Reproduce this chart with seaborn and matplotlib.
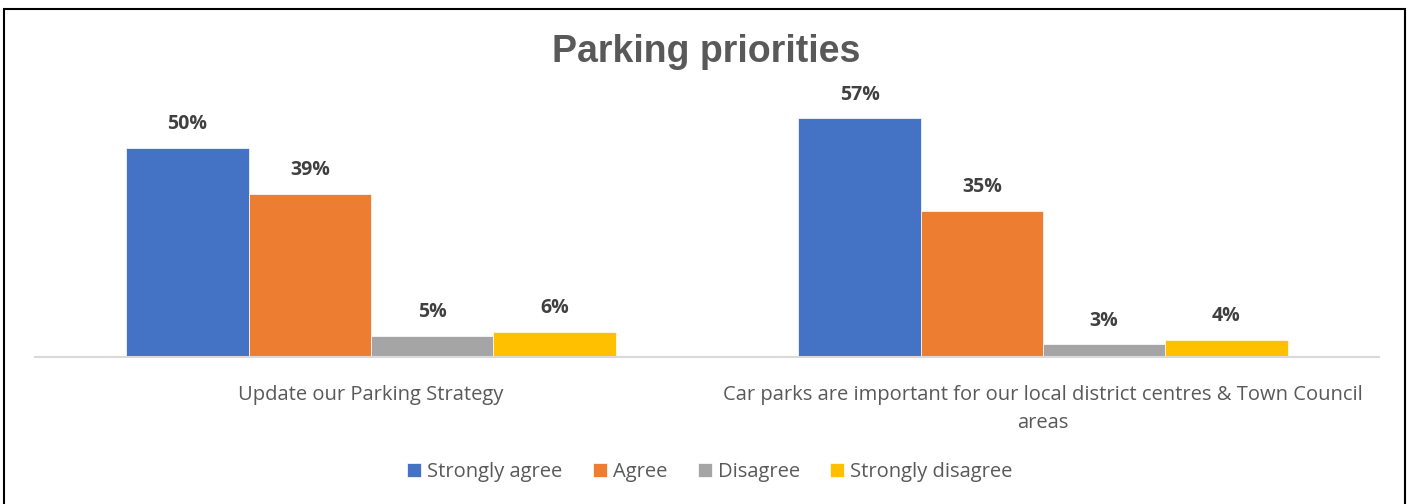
import matplotlib
matplotlib.use("Agg")
import matplotlib.pyplot as plt
import seaborn as sns
import pandas as pd
from matplotlib.patches import Rectangle

statements = [
    "Update our Parking Strategy",
    "Car parks are important for our local district centres & Town Council\nareas",
]
responses = ["Strongly agree", "Agree", "Disagree", "Strongly disagree"]
update_strategy = [50, 39, 5, 6]
car_parks_important = [57, 35, 3, 4]
colors = ["#4472C4", "#ED7D31", "#A5A5A5", "#FFC000"]

rows = []
for stmt, vals in zip(statements, [update_strategy, car_parks_important]):
    for resp, v in zip(responses, vals):
        rows.append({"statement": stmt, "response": resp, "pct": v})
df = pd.DataFrame(rows)

sns.set_theme(style="white")
plt.rcParams["font.family"] = ["Open Sans", "DejaVu Sans"]

W, H = 1411, 504
fig = plt.figure(figsize=(W / 100, H / 100), dpi=100)
ax = fig.add_axes([35 / W, 1 - 357 / H, (1379 - 35) / W, (357 - 85) / H])

sns.barplot(
    data=df, x="statement", y="pct", hue="response",
    hue_order=responses, palette=colors, saturation=1, width=0.728, gap=0,
    edgecolor="white", linewidth=0.5, ax=ax, legend=True,
)

ax.set_ylim(0, 65)
ax.set_xlim(-0.5, 1.5)
ax.set_yticks([])
ax.set_xlabel("")
ax.set_ylabel("")
for side in ["top", "right", "left"]:
    ax.spines[side].set_visible(False)
ax.spines["bottom"].set_color("#D9D9D9")
ax.spines["bottom"].set_linewidth(1.5)
ax.tick_params(axis="x", length=0, pad=20, labelsize=14.5, labelcolor="#595959")
for lbl in ax.get_xticklabels():
    lbl.set_linespacing(1.55)

for container in ax.containers:
    ax.bar_label(container, labels=[f"{int(v)}%" for v in container.datavalues],
                 padding=10, fontsize=14, fontweight="bold", color="#404040")

handles, labels = ax.get_legend_handles_labels()
ax.legend_.remove()
fig.legend(handles, labels, loc="center", bbox_to_anchor=(710 / W, 1 - 472 / H),
           ncol=4, frameon=False, fontsize=14.5, labelcolor="#595959",
           handlelength=0.7, handleheight=0.7, handletextpad=0.3,
           columnspacing=1.5)

fig.text(706 / W, 1 - 52 / H, "Parking priorities", ha="center", va="center",
         fontsize=27, fontweight="bold", color="#595959",
         family=["Liberation Sans", "DejaVu Sans"])

fig.patches.append(Rectangle((4 / W, -0.05), (1405 - 4) / W, 1.05 - 9 / H,
                             transform=fig.transFigure, fill=False,
                             edgecolor="black", linewidth=1.5))

fig.savefig("out.png", dpi=100)
